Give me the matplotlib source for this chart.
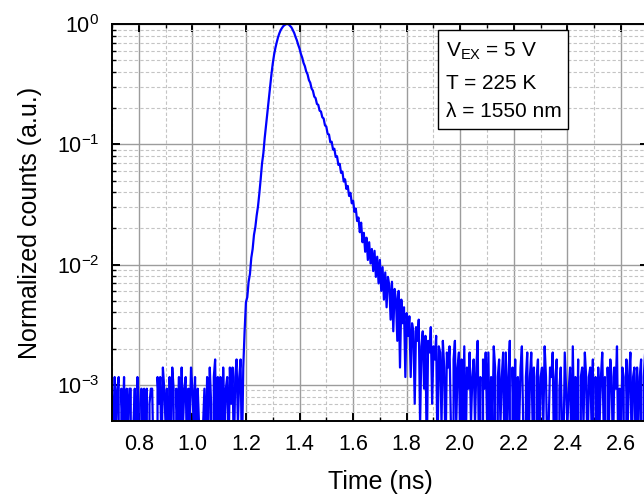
import numpy as np
import matplotlib
matplotlib.use("Agg")
import matplotlib.pyplot as plt
from matplotlib.ticker import MultipleLocator, LogLocator, NullFormatter
from matplotlib.patches import Rectangle

plt.rcParams['font.family'] = ['Liberation Sans', 'DejaVu Sans']
plt.rcParams['mathtext.fontset'] = 'custom'
plt.rcParams['mathtext.rm'] = 'Liberation Sans'
plt.rcParams['mathtext.it'] = 'Liberation Sans:italic'
plt.rcParams['mathtext.default'] = 'regular'
plt.rcParams['axes.unicode_minus'] = False

# histogram: first bin at 0.700 ns, 5 ps bins
t_first = 0.700
bin_width = 0.005

# raw counts per bin (1 count ~ 2.3e-4 after normalising)
bg_before = [4, 1, 5, 2, 4, 5, 0, 4, 2, 5,
             1, 4, 2, 4, 4, 0, 2, 4, 1, 5,
             3, 0, 4, 1, 4, 2, 4, 0, 3, 4,
             4, 1, 2, 0, 5, 3, 5, 1, 6, 4,
             2, 4, 1, 5, 2, 6, 4, 0, 4, 2,
             5, 1, 6, 2, 4, 5, 1, 4, 2, 6,
             4, 2, 5, 1, 4, 2, 0, 1, 2, 4,
             1, 5, 2, 6, 3, 0, 5, 7, 1, 5,
             2, 5, 1, 6, 2, 4, 5, 1, 6, 3,
             6, 1, 5, 7, 2, 5, 7, 1, 6]
rise = [12, 21, 23, 31, 36, 49, 58, 76, 88, 110,
        131, 168, 221, 298, 362, 485, 618, 784, 1005, 1298,
        1630, 2010, 2385, 2725, 3035, 3348, 3612, 3840, 3998, 4141,
        4224, 4290]
decay = [4300, 4262, 4140, 4025, 3818, 3631, 3360, 3152, 2890, 2688,
         2430, 2261, 2041, 1918, 1733, 1640, 1470, 1398, 1251, 1199,
         1072, 1041, 931, 915, 818, 806, 722, 705, 618, 603,
         524, 519, 447, 452, 389, 395, 338, 342, 290, 296,
         249, 255, 211, 220, 183, 194, 160, 170, 139, 146,
         118, 126, 99, 106, 80, 96, 66, 79, 55, 72,
         47, 66, 44, 58, 38, 56, 34, 50, 30, 47,
         26, 41, 22, 37, 19, 34, 29, 15, 31, 12,
         27, 22, 10, 26, 6, 22, 14, 19, 5, 17]
tail = [11, 16, 5, 14, 12, 3, 13, 10, 15, 2,
        9, 12, 4, 11, 1, 10, 8, 13, 3, 9,
        7, 11, 1, 9, 8, 2, 10, 6, 1, 8,
        6, 9, 2, 0, 7, 10, 2, 6, 8, 1,
        7, 2, 9, 1, 6, 4, 8, 2, 5, 7,
        2, 6, 10, 1, 5, 0, 7, 4, 8, 2,
        8, 1, 5, 2, 9, 6, 0, 5, 7, 2,
        5, 8, 1, 8, 2, 5, 10, 0, 6, 2,
        7, 1, 5, 2, 6, 9, 2, 0, 5, 8,
        1, 5, 8, 2, 6, 0, 5, 7, 1, 5,
        6, 2, 9, 5, 1, 2, 6, 5, 8, 1,
        5, 7, 0, 4, 6, 2, 1, 8, 4, 2,
        4, 6, 1, 9, 2, 5, 1, 7, 0, 5,
        6, 2, 8, 5, 1, 5, 6, 2, 7, 0,
        5, 1, 6, 2, 5, 8, 2, 5, 0, 6,
        2, 7, 5, 1, 6, 4, 9, 1, 4, 2,
        6, 5, 0, 7, 2, 5, 8, 1, 5, 6,
        1, 6, 2, 5, 7, 0, 5, 8, 2]

info_lines = [r'V$_{EX}$ = 5 V', 'T = 225 K', 'λ = 1550 nm']

counts = np.array(bg_before + rise + decay + tail, dtype=float)
t = t_first + bin_width * np.arange(len(counts))
norm = counts / counts.max()

fig = plt.figure(figsize=(6.44, 4.97), dpi=100)
ax = fig.add_axes([0.1739, 0.1529, 0.832, 0.7988])

ax.plot(t, norm, color='#0000ff', lw=1.6)
ax.set_yscale('log')
ax.set_xlim(0.7, 2.7)
ax.set_ylim(10 ** -3.3, 1.0)

ax.xaxis.set_major_locator(MultipleLocator(0.2))
ax.xaxis.set_minor_locator(MultipleLocator(0.1))
ax.xaxis.set_major_formatter(plt.FuncFormatter(lambda v, p: f'{v:.1f}'))
ax.yaxis.set_major_locator(LogLocator(base=10, numticks=10))
ax.yaxis.set_minor_locator(LogLocator(base=10, subs=np.arange(2, 10), numticks=20))
ax.yaxis.set_minor_formatter(NullFormatter())

ax.set_axisbelow(True)
ax.grid(which='major', color='#9c9c9c', lw=1.0, ls='-')
ax.grid(which='minor', color='#c4c4c4', lw=0.8, ls=(0, (3, 2)))

ax.tick_params(which='both', direction='in', top=True, right=True, labelsize=15.5)
ax.tick_params(which='major', length=6, width=1.4, pad=9)
ax.tick_params(which='minor', length=3, width=1.0)
for s in ax.spines.values():
    s.set_linewidth(1.4)

ax.set_xlabel('Time (ns)', fontsize=18, labelpad=11)
ax.set_ylabel('Normalized counts (a.u.)', fontsize=18, labelpad=11)

# info box
ax.add_patch(Rectangle((0.6077, 0.7355), 0.243, 0.2495, transform=ax.transAxes,
                       facecolor='white', edgecolor='black', lw=1.0, zorder=5))
for txt, yb in zip(info_lines, [0.917, 0.836, 0.766]):
    ax.text(0.623, yb, txt, transform=ax.transAxes, fontsize=15,
            va='baseline', ha='left', zorder=6)

fig.savefig('out.png', dpi=100)
